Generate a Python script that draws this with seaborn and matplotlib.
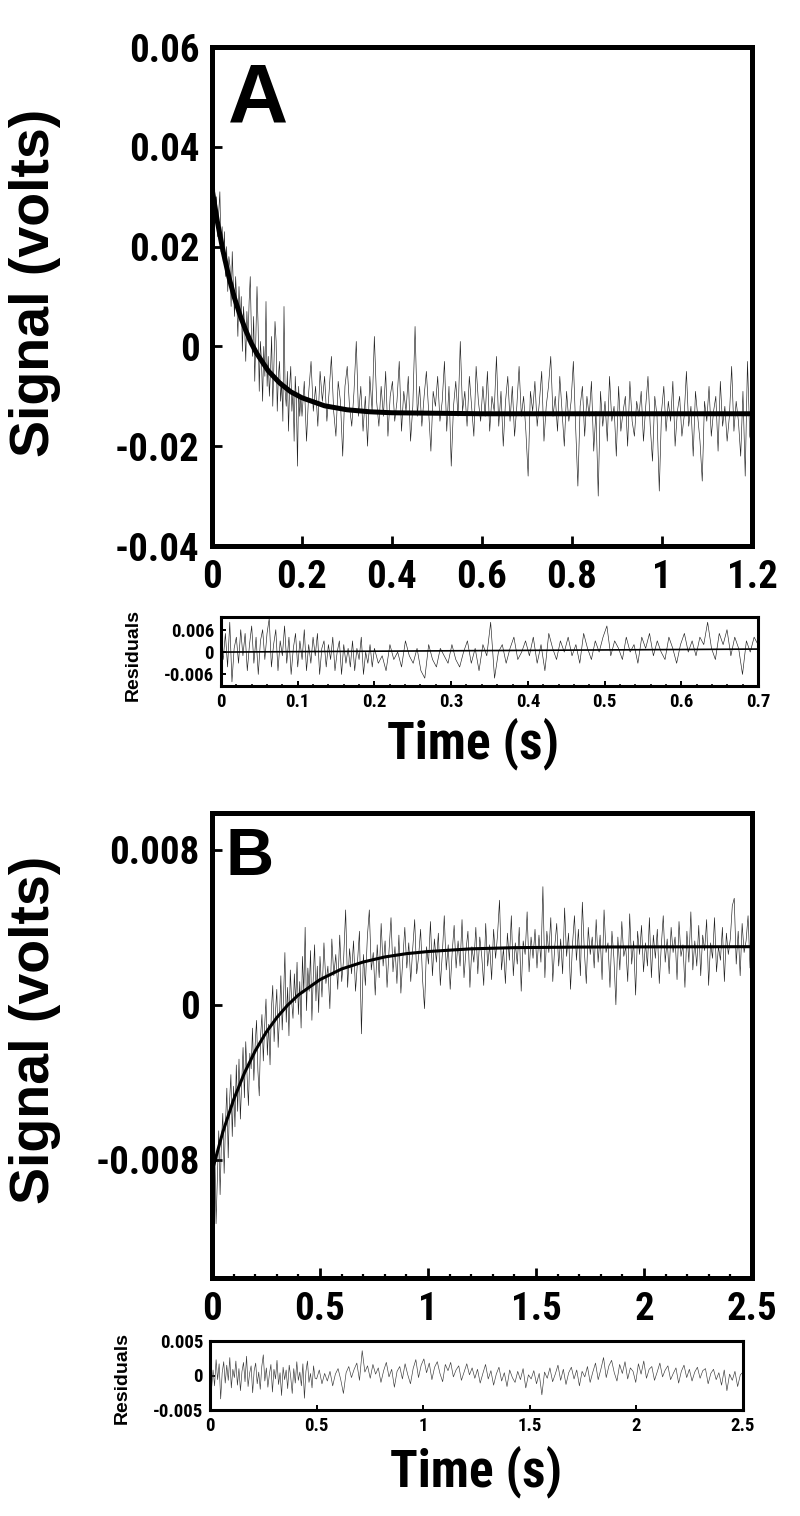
import numpy as np
import matplotlib
matplotlib.use("Agg")
import matplotlib.pyplot as plt
from matplotlib import font_manager as fm
from matplotlib.ticker import MultipleLocator, FuncFormatter
import seaborn as sns

# ---- panel A: signal trace (mV), dense first 0.2 s then coarser to 1.2 s
sig_a_early = [33, 28, 36, 25, 30, 22, 27, 31, 19, 24,
               17, 23, 14, 20, 11, 18, 16, 8, 19, 12,
               6, 14, 9, 2, 12, 5, 10, -1, 8, 4,
               -3, 7, 1, 9, 14, 3, -2, 6, -7, 2,
               12, 4, -9, 1, -3, -11, 0, -6, 9, -8,
               -2, -10, -5, 2, -12, -4, 5, 1, -13, -6,
               -3, -11, -7, -15, 8, -9, -12, -5, -17, -8,
               -4, -13, -9, -19, -6, -11, -24, -8, -14, -10]
sig_a_late = [-14, -7, -19, -9, -3, -13, -8, -16, -5, -11,
              -6, -15, -9, -2, -13, -18, -7, -11, -22, -8,
              -4, -12, -16, -9, 1, -14, -8, -17, -10, -20,
              -6, -13, 2, -11, -16, -8, -14, -5, -18, -10,
              -7, -15, -11, -3, -17, -9, -13, -6, -19, -12,
              4, -14, -8, -16, -10, -5, -13, -21, -9, -12,
              -6, -15, -11, -3, -17, -8, -24, -12, -7, -14,
              1, -13, -9, -16, -6, -12, -18, -4, -11, -15,
              -8, -14, -5, -17, -10, -13, -2, -16, -9, -20,
              -11, -6, -15, -8, -18, -12, -4, -14, -10, -17,
              -26, -9, -13, -7, -16, -11, -5, -19, -12, -8,
              -2, -14, -10, -17, -6, -13, -20, -9, -15, -11,
              -3, -16, -28, -12, -8, -18, -10, -14, -7, -21,
              -13, -30, -9, -16, -11, -19, -6, -15, -12, -22,
              -8, -17, -13, -10, -20, -7, -15, -18, -11, -14,
              -9, -19, -12, -6, -16, -23, -10, -14, -29, -13,
              -8, -17, -11, -15, -7, -20, -13, -10, -18, -14,
              -5, -16, -12, -22, -9, -14, -19, -27, -11, -15,
              -8, -18, -13, -10, -21, -7, -16, -12, -19, -14,
              -4, -17, -11, -15, -22, -9, -26, -3, -18, -20]
fit_a_t = [0, 0.0125, 0.025, 0.0375, 0.05, 0.0625, 0.075, 0.0875, 0.1, 0.125,
           0.15, 0.175, 0.2, 0.25, 0.3, 0.35, 0.4, 0.5, 0.6, 0.8, 1.0, 1.2]
fit_a_v = [31.6, 24.7, 18.9, 13.9, 9.7, 6.2, 3.2, 0.6, -1.5, -4.9,
           -7.3, -9.1, -10.3, -11.9, -12.7, -13.1, -13.3, -13.4, -13.5, -13.5, -13.5, -13.5]

# ---- panel A residuals (mV), 0-0.7 s
res_a_early = [3, -2, 5, -4, 8, -8, 1, 4, -3, 6,
               -1, 5, -5, 2, 7, -3, 4, -6, 3, 6,
               -2, 5, 9, -4, 2, 6, -5, 3, -1, 7,
               -3, 4, -6, 1, 5, -4, 3, -2, 6, -5,
               2, -3, 4, -1, 5, -6, 1, 3, -4, 2,
               -2, 4, -5, 0, 3, -6, 2, -3, 1, -4,
               3, -5, 1, -2, 4, -6, 0, -3, 2, -4]
res_a_late = [1, -3, -1, -5, 2, -2, 0, -4, 3, -1,
              -3, 1, -5, -7, 2, -2, -4, 1, -1, -3,
              2, -2, -4, 0, 3, -3, 1, -5, 2, -1,
              8, -7, 0, 2, -3, 1, 4, -2, 0, 3,
              -1, 4, -3, 2, -5, 5, 1, -2, 3, 0,
              4, -1, 2, -3, 5, 1, -2, 3, 0, 4,
              7, -1, 3, 1, -2, 4, 0, 2, -3, 4,
              1, 5, -1, 3, 0, -2, 4, 1, -3, 2,
              5, 0, 3, -1, 4, 2, 8, 1, -2, 5,
              2, 6, -1, 4, 1, -6, 3, 0, 4, 2]
res_a_line_t = [0, 0.7]
res_a_line_v = [0.0, 0.8]

# ---- panel B: signal trace (mV), 0-2.5 s
sig_b_early = [-8.0, -10.5, -7.2, -11.3, -8.9, -6.5, -9.8, -7.0, -5.6, -8.7,
               -6.1, -4.3, -7.9, -5.0, -3.6, -6.8, -4.2, -6.3, -3.1, -5.5,
               -2.8, -5.9, -4.0, -2.2, -4.8, -1.9, -3.7, -5.2, -2.5, -3.3,
               -1.2, -3.9, -2.0, -0.8, -3.4, -4.7, -1.6, -0.5, -2.9, -1.1,
               0.3, -2.6, -1.0, -3.1, -0.2, 1.0, -1.9, -0.4, 0.8, -2.2,
               -0.6, 1.5, -1.3, 0.4, 2.7, -0.9, 0.9, -1.6, 1.8, 0.2,
               -0.7, 1.6, 0.1, 2.2, -0.5, 1.2, -1.2, 2.5, 0.6, 4.0,
               -0.3, 1.9, 0.7, 2.8, -0.8, 1.4, 3.1, 0.2, 2.0, -0.4]
sig_b_late = [2.5, 0.4, 3.2, 1.1, 2.0, -0.2, 3.4, 1.5, 2.6, 0.8,
              3.6, 1.2, 2.4, 4.9, 0.9, 2.9, 1.6, 3.3, 0.7, 2.2,
              3.8, -1.5, 2.6, 1.0, 3.5, 4.9, 1.8, 2.7, 0.5, 3.1,
              1.4, 4.2, 2.0, 3.3, 0.9, 2.8, 4.5, 1.7, 3.0, 1.1,
              3.6, 0.6, 2.4, 4.0, 1.9, 3.2, 1.2, 2.9, 4.4, 1.6,
              2.5, 3.9, 1.3, -0.2, 3.0, 2.1, 4.3, 1.5, 3.4, 2.2,
              3.7, 1.0, 2.6, 4.6, 1.8, 3.1, 0.8, 2.7, 4.1, 1.9,
              3.3, 2.0, 4.4, 1.4, 2.8, 3.8, 0.9, 3.0, 2.2, 4.0,
              1.6, 3.5, 2.5, 1.0, 4.2, 2.0, 3.1, 1.3, 3.9, 2.4,
              3.6, 5.4, 1.8, 2.9, 1.1, 3.7, 2.3, 4.6, 1.5, 3.2,
              2.1, 4.0, 0.7, 3.3, 2.6, 4.8, 1.7, 3.5, 2.4, 3.9,
              1.9, 3.6, 2.2, 6.1, 1.4, 3.8, 2.7, 4.5, 1.2, 3.0,
              4.2, 2.0, 3.4, 1.6, 5.0, 2.5, 3.7, 0.8, 3.1, 4.6,
              2.3, 3.9, 1.5, 5.3, 2.8, 1.1, 4.0, 2.6, 3.5, 1.9,
              4.4, 2.2, 3.6, 1.3, 4.9, 2.7, 3.2, 0.9, 3.8, 2.4,
              0.0, 3.5, 1.8, 4.3, 2.5, 3.0, 1.2, 4.7, 2.1, 3.3,
              0.5, 3.8, 2.6, 4.1, 1.7, 3.2, 2.0, 4.5, 1.4, 3.6,
              2.4, 3.9, 1.1, 3.0, 4.6, 2.2, 3.4, 1.6, 4.0, 2.7,
              3.5, 1.3, 4.3, 2.5, 3.1, 0.9, 3.8, 2.2, 4.8, 1.8,
              3.3, 2.0, 4.1, 1.5, 3.6, 2.8, 4.4, 1.0, 3.2, 2.4,
              4.5, 1.7, 3.0, 2.3, 4.0, 1.2, 3.7, 2.6, 3.4, 5.1,
              5.5, 2.1, 3.8, 1.5, 4.2, 2.7, 3.3, 4.6, 1.9, 3.1]
fit_b_t = [0, 0.05, 0.1, 0.15, 0.2, 0.25, 0.3, 0.35, 0.4, 0.5,
           0.6, 0.7, 0.8, 0.9, 1.0, 1.2, 1.4, 1.7, 2.0, 2.5]
fit_b_v = [-8.6, -6.57, -4.9, -3.52, -2.38, -1.43, -0.66, -0.02, 0.51, 1.30,
           1.85, 2.21, 2.47, 2.64, 2.75, 2.89, 2.95, 2.98, 2.99, 3.0]

# ---- panel B residuals (mV)
res_b_early = [1.2, -2.0, 0.8, -1.5, 2.3, -0.6, 1.7, -3.4, 0.4, 2.0,
               -1.1, 1.5, -0.7, 2.6, -1.8, 0.9, -0.3, 2.1, -1.4, 1.0,
               -2.2, 0.6, 1.9, -0.9, 2.8, -1.6, 0.3, 1.4, -2.5, 0.7,
               1.8, -1.2, 0.5, -2.0, 1.3, 3.0, -0.8, 1.1, -1.7, 0.2,
               1.6, -2.4, 0.9, -0.5, 2.2, -1.3, 0.4, -2.9, 1.2, -0.6,
               0.8, -1.9, 1.5, -0.2, -2.6, 1.0, -1.1, 2.0, -0.7, 0.5,
               -1.5, 1.7, -3.3, 0.6, 2.1, -1.0, 0.3, -1.8, 1.4, -0.4]
res_b_late = [-0.5, 0.8, -1.2, 0.3, -0.8, 0.6, -1.5, 0.2, 1.0, -0.6,
              -2.6, 0.4, 1.3, -0.3, 0.9, 1.8, -0.7, 3.6, 0.5, 1.4,
              -0.4, 1.6, 0.2, 1.1, -1.0, 0.7, 1.9, -0.2, 0.9, -1.7,
              0.6, 1.3, -0.5, 1.7, 0.1, -1.2, 1.0, 2.3, -0.3, 1.5,
              2.4, 0.4, 1.8, -0.6, 1.2, 2.0, 0.3, -0.9, 1.6, 0.7,
              1.9, -0.2, 0.8, 1.4, -0.7, 0.5, 1.7, 0.1, 1.1, -0.4,
              0.9, -1.1, 0.3, 1.6, -0.5, 0.7, -1.4, 0.2, 1.2, -0.8,
              0.4, -1.6, 0.8, -0.3, -1.0, 0.6, -0.6, 1.0, -1.8, 0.1,
              -0.5, 0.7, -1.2, 0.3, -2.8, 0.5, -0.4, 1.1, -0.9, 0.2,
              1.5, -0.7, 0.9, -1.3, 0.4, 1.2, -0.5, 0.8, -1.5, 0.6,
              -0.2, 1.3, -1.0, 0.5, 1.8, -0.6, 0.9, 2.6, -0.3, 1.4,
              2.2, 0.4, -0.8, 1.6, 0.3, 2.0, -0.5, 1.1, 0.6, -1.0,
              1.7, 0.2, 2.1, -0.4, 0.9, 1.3, -0.7, 0.5, 1.8, -0.2,
              0.8, 1.4, -0.6, 0.3, 1.1, -1.1, 0.6, 1.5, -0.3, 0.9,
              -0.8, 0.5, 1.2, -0.4, 0.7, 1.0, -1.2, 0.3, 0.9, -0.6,
              0.4, -1.4, 0.8, -2.2, 0.2, -0.7, 0.6, -1.6, 0.1, 0.5]

MV = 1e-3

# sampling grids (instrument time base: fast segment then slow segment)
t_sig_a = np.concatenate([np.linspace(0, 0.2, len(sig_a_early), endpoint=False),
                          np.linspace(0.2, 1.2, len(sig_a_late))])
t_res_a = np.concatenate([np.linspace(0, 0.2, len(res_a_early), endpoint=False),
                          np.linspace(0.2, 0.7, len(res_a_late))])
t_sig_b = np.concatenate([np.linspace(0, 0.5, len(sig_b_early), endpoint=False),
                          np.linspace(0.5, 2.5, len(sig_b_late))])
t_res_b = np.concatenate([np.linspace(0, 0.5, len(res_b_early), endpoint=False),
                          np.linspace(0.5, 2.5, len(res_b_late))])

sns.set_style("ticks")
plt.rcParams['font.family'] = ['Liberation Sans', 'DejaVu Sans']
plt.rcParams['font.weight'] = 'bold'
plt.rcParams['text.color'] = 'black'
plt.rcParams['axes.labelcolor'] = 'black'
plt.rcParams['xtick.color'] = 'black'
plt.rcParams['ytick.color'] = 'black'

# the original uses a condensed bold face for ticks and "Time (s)"; use one if present
installed = {f.name for f in fm.fontManager.ttflist}
narrow = None
for name in ['Liberation Sans Narrow', 'Arial Narrow', 'Roboto Condensed',
             'Open Sans Condensed', 'DejaVu Sans Condensed', 'Noto Sans Condensed']:
    if name in installed:
        narrow = dict(family=[name, 'Liberation Sans'], stretch='normal')
        break
if narrow is None:
    for name in ['Noto Sans', 'Open Sans', 'Roboto', 'DejaVu Sans']:
        path = fm.findfont(fm.FontProperties(family=name, weight='bold', stretch='condensed'))
        if 'ondensed' in path or 'Narrow' in path:
            narrow = dict(family=[name, 'Liberation Sans'], stretch='condensed')
            break

fig = plt.figure(figsize=(8, 15.16), dpi=100)


def box(l, t, r, b):
    return fig.add_axes([l / 800, 1 - b / 1516, (r - l) / 800, (b - t) / 1516])


def fmt(v, pos):
    return '%g' % round(v, 6)


def style(ax, spine_w, tick_len, tick_w, size, pad):
    for sp in ax.spines.values():
        sp.set_visible(True)
        sp.set_linewidth(spine_w)
        sp.set_color('black')
    ax.tick_params(which='major', direction='in', length=tick_len, width=tick_w,
                   labelsize=size, pad=pad, top=False, right=False, colors='black')
    ax.tick_params(which='minor', direction='in', length=tick_len * 0.45,
                   width=tick_w * 0.8, top=False, right=False)
    ax.xaxis.set_major_formatter(FuncFormatter(fmt))
    ax.yaxis.set_major_formatter(FuncFormatter(fmt))
    if narrow is not None:
        for lab in ax.get_xticklabels() + ax.get_yticklabels():
            lab.set_fontfamily(narrow['family'])
            lab.set_fontstretch(narrow['stretch'])
    ax.set_xlabel('')
    ax.set_ylabel('')


def trace(ax, t, v, lw, color='black', scale=MV):
    sns.lineplot(x=np.asarray(t), y=np.asarray(v) * scale, ax=ax, color=color,
                 linewidth=lw, estimator=None, sort=False, legend=False)


def time_label(x, y):
    if narrow is not None:
        fig.text(x / 800, 1 - y / 1516, 'Time (s)', fontsize=37, fontweight='bold',
                 family=narrow['family'], fontstretch=narrow['stretch'],
                 ha='center', va='center')
    else:
        fig.text(x / 800, 1 - y / 1516, 'Time (s)', fontsize=35, fontweight='bold',
                 ha='center', va='center')


# ---------------- panel A
ax_a = box(212, 47, 752, 546)
trace(ax_a, t_sig_a, sig_a_early + sig_a_late, 0.45, '#202020')
trace(ax_a, fit_a_t, fit_a_v, 3.6)
ax_a.set_xlim(0, 1.2)
ax_a.set_ylim(-0.04, 0.06)
ax_a.set_xticks([0, 0.2, 0.4, 0.6, 0.8, 1.0, 1.2])
ax_a.set_yticks([-0.04, -0.02, 0, 0.02, 0.04, 0.06])
style(ax_a, 3.6, 7, 2, 28, 9)
ax_a.text(0.03, 0.97, 'A', transform=ax_a.transAxes, fontsize=60,
          fontweight='bold', ha='left', va='top')
fig.text(35 / 800, 1 - 283 / 1516, 'Signal (volts)', rotation=90, fontsize=40,
         fontweight='bold', ha='center', va='center')

ax_ar = box(221, 617, 758, 686)
trace(ax_ar, t_res_a, res_a_early + res_a_late, 0.45, '#202020')
trace(ax_ar, res_a_line_t, res_a_line_v, 1.2)
ax_ar.set_xlim(0, 0.7)
ax_ar.set_ylim(-0.0091, 0.0094)
ax_ar.set_xticks([0, 0.1, 0.2, 0.3, 0.4, 0.5, 0.6, 0.7])
ax_ar.xaxis.set_minor_locator(MultipleLocator(0.02))
ax_ar.set_yticks([-0.006, 0, 0.006])
style(ax_ar, 2.2, 3.5, 1.4, 13.5, 5)
fig.text(133 / 800, 1 - 655 / 1516, 'Residuals', rotation=90, fontsize=14,
         fontweight='bold', ha='center', va='center')
time_label(473, 744)

# ---------------- panel B
ax_b = box(212, 813, 752, 1278)
trace(ax_b, t_sig_b, sig_b_early + sig_b_late, 0.45, '#202020')
trace(ax_b, fit_b_t, fit_b_v, 2.2)
ax_b.set_xlim(0, 2.5)
ax_b.set_ylim(-0.0141, 0.0099)
ax_b.set_xticks([0, 0.5, 1.0, 1.5, 2.0, 2.5])
ax_b.xaxis.set_minor_locator(MultipleLocator(0.1))
ax_b.set_yticks([-0.008, 0, 0.008])
style(ax_b, 3.6, 7, 2, 28, 9)
ax_b.text(0.025, 0.97, 'B', transform=ax_b.transAxes, fontsize=48,
          fontweight='bold', ha='left', va='top')
fig.text(35 / 800, 1 - 1030 / 1516, 'Signal (volts)', rotation=90, fontsize=40,
         fontweight='bold', ha='center', va='center')

ax_br = box(210, 1341, 743, 1410)
trace(ax_br, t_res_b, res_b_early + res_b_late, 0.45, '#383838')
ax_br.set_xlim(0, 2.5)
ax_br.set_ylim(-0.005, 0.005)
ax_br.set_xticks([0, 0.5, 1.0, 1.5, 2.0, 2.5])
ax_br.set_yticks([-0.005, 0, 0.005])
style(ax_br, 2.2, 3.5, 1.4, 13.5, 5)
fig.text(122 / 800, 1 - 1378 / 1516, 'Residuals', rotation=90, fontsize=14,
         fontweight='bold', ha='center', va='center')
time_label(476, 1472)

fig.savefig('out.png', dpi=100)
